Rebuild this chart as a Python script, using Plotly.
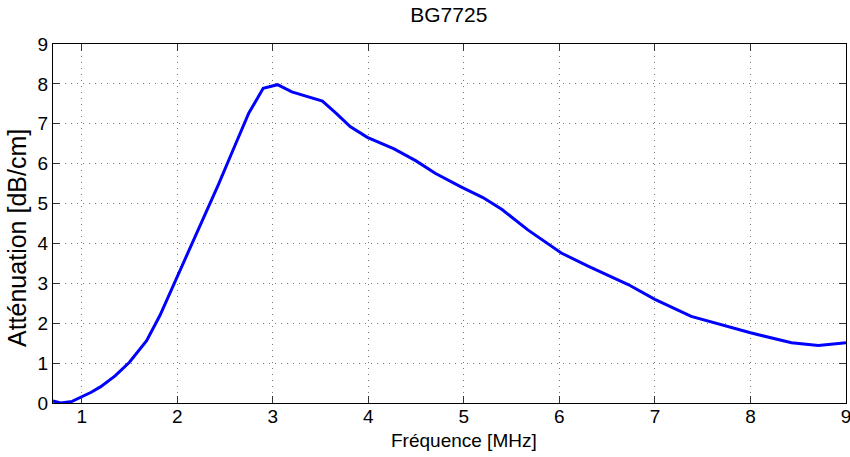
import plotly.graph_objects as go

# Attenuation spectrum of sample BG7725
frequency_mhz = [0.7, 0.78, 0.9, 1.0, 1.1, 1.2, 1.35, 1.5, 1.68, 1.82, 1.96, 2.13,
                 2.27, 2.43, 2.6, 2.75, 2.9, 3.05, 3.2, 3.35, 3.52, 3.67, 3.81, 3.99,
                 4.27, 4.5, 4.7, 4.97, 5.2, 5.4, 5.67, 6.02, 6.3, 6.72, 7.0, 7.38,
                 8.0, 8.43, 8.71, 9.0]
attenuation_db_cm = [0.05, 0.0, 0.04, 0.15, 0.27, 0.41, 0.68, 1.02, 1.56, 2.2, 2.95, 3.85,
                     4.63, 5.47, 6.43, 7.27, 7.89, 7.98, 7.8, 7.7, 7.57, 7.25, 6.93, 6.66,
                     6.37, 6.07, 5.76, 5.42, 5.15, 4.85, 4.34, 3.76, 3.43, 2.97, 2.6, 2.17,
                     1.76, 1.51, 1.44, 1.51]

x_ticks = [1, 2, 3, 4, 5, 6, 7, 8, 9]
y_ticks = [0, 1, 2, 3, 4, 5, 6, 7, 8, 9]

FONT = "Liberation Sans, Arial, Helvetica, sans-serif"

W, H = 850, 457
L, R, T, B = 53, 4, 44, 54
PLOT_W = W - L - R
PLOT_H = H - T - B


def px_to_paper(px, py):
    """Convert a pixel position on the page to paper coordinates."""
    return (px - L) / PLOT_W, (H - B - py) / PLOT_H


fig = go.Figure(
    go.Scatter(
        x=frequency_mhz,
        y=attenuation_db_cm,
        mode="lines",
        line=dict(color="#0000ff", width=3),
        showlegend=False,
    )
)

axis_common = dict(
    showline=True,
    linecolor="black",
    linewidth=1,
    mirror="ticks",
    ticks="inside",
    ticklen=7,
    tickcolor="#333333",
    showgrid=True,
    gridcolor="#7a7a7a",
    griddash="1px,5px",
    gridwidth=1,
    zeroline=False,
    automargin=False,
    ticklabeloverflow="allow",
    tickfont=dict(family=FONT, size=19, color="black"),
)

fig.update_xaxes(range=[0.7, 9], tickvals=x_ticks, ticklabelstandoff=-4, **axis_common)
fig.update_yaxes(range=[0, 9], tickvals=y_ticks, **axis_common)

xl_x, xl_y = px_to_paper(464, 440)
yl_x, yl_y = px_to_paper(17, 238)
fig.add_annotation(
    text="Fréquence [MHz]", xref="paper", yref="paper", x=xl_x, y=xl_y,
    xanchor="center", yanchor="middle", showarrow=False,
    font=dict(family=FONT, size=19, color="black"),
)
fig.add_annotation(
    text="Atténuation [dB/cm]", xref="paper", yref="paper", x=yl_x, y=yl_y,
    xanchor="center", yanchor="middle", showarrow=False, textangle=-90,
    font=dict(family=FONT, size=25, color="black"),
)

fig.update_layout(
    width=W,
    height=H,
    margin=dict(l=L, r=R, t=T, b=B),
    paper_bgcolor="white",
    plot_bgcolor="white",
    title=dict(
        text="BG7725",
        font=dict(family=FONT, size=21, color="black"),
        x=0.528,
        xanchor="center",
        y=1 - 15 / H,
        yanchor="middle",
    ),
)

fig.write_html("out.html")
